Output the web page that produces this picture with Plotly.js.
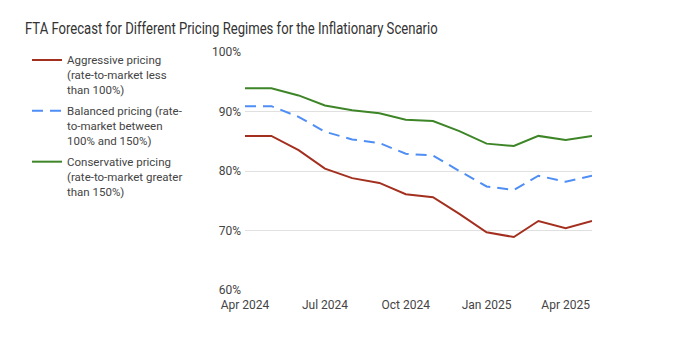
<!DOCTYPE html>
<html>
<head>
<meta charset="utf-8">
<script src="https://cdn.plot.ly/plotly-3.0.1.min.js"></script>
<style>html,body{margin:0;padding:0;background:#fff;}#chart{width:674px;height:352px;}</style>
</head>
<body>
<div id="chart"></div>
<script>
const months = ['2024-04-01','2024-05-01','2024-06-01','2024-07-01','2024-08-01','2024-09-01','2024-10-01','2024-11-01','2024-12-01','2025-01-01','2025-02-01','2025-03-01','2025-04-01','2025-05-01'];
const aggressive = [85.9, 85.9, 83.5, 80.4, 78.8, 78.0, 76.1, 75.6, 72.8, 69.7, 68.9, 71.6, 70.4, 71.6];
const balanced = [90.9, 90.9, 89.1, 86.6, 85.3, 84.7, 82.9, 82.6, 80.0, 77.4, 76.8, 79.2, 78.2, 79.2];
const conservative = [93.9, 93.9, 92.7, 91.0, 90.2, 89.7, 88.6, 88.4, 86.7, 84.6, 84.2, 85.9, 85.2, 85.9];
const seriesNames = [
  'Aggressive pricing<br>(rate-to-market less<br>than 100%)',
  'Balanced pricing (rate-<br>to-market between<br>100% and 150%)',
  'Conservative pricing<br>(rate-to-market greater<br>than 150%)'
];
const tickDates = ['2024-04-01','2024-07-01','2024-10-01','2025-01-01','2025-04-01'];
const tickLabels = ['Apr 2024','Jul 2024','Oct 2024','Jan 2025','Apr 2025'];
const yTicks = [60, 70, 80, 90, 100];
const yTickLabels = ['60%','70%','80%','90%','100%'];

const fam = 'Roboto, Liberation Sans, Arial, sans-serif';
const traces = [
  {x: months, y: aggressive, name: seriesNames[0], legendgroup: 'g1', mode: 'lines', line: {color: '#a3301f', width: 2}},
  {x: months, y: balanced, name: seriesNames[1], legendgroup: 'g2', mode: 'lines', line: {color: '#4f8ef5', width: 2, dash: '11px,7px'}},
  {x: months, y: conservative, name: seriesNames[2], legendgroup: 'g3', mode: 'lines', line: {color: '#3d8527', width: 2}}
];

const layout = {
  width: 674, height: 352,
  margin: {l: 245, r: 82, t: 52, b: 62},
  paper_bgcolor: '#fff', plot_bgcolor: '#fff',
  font: {family: fam, color: '#444', size: 12},
  title: {text: 'FTA Forecast for Different Pricing Regimes for the Inflationary Scenario',
    font: {size: 16, color: '#333', family: fam},
    xref: 'container', yref: 'container', x: 25/674, xanchor: 'left', y: 1 - 28/352, yanchor: 'middle'},
  showlegend: true,
  legend: {xref: 'container', yref: 'container', x: 27/674, xanchor: 'left', y: 1 - 46/352, yanchor: 'top',
    valign: 'top', tracegroupgap: 3, font: {size: 11.5, color: '#444', family: fam}, bgcolor: 'rgba(0,0,0,0)'},
  xaxis: {type: 'date', range: ['2024-04-01','2025-05-01'], tickvals: tickDates, ticktext: tickLabels,
    showgrid: false, zeroline: false, showline: false, ticks: '', ticklabelstandoff: 6,
    tickfont: {size: 12, color: '#444', family: fam}, fixedrange: true},
  yaxis: {range: [60, 100], tickvals: yTicks, ticktext: yTickLabels, showgrid: true, gridcolor: '#e0e0e0', gridwidth: 1,
    zeroline: false, showline: false, ticks: '', ticklabelstandoff: 3, tickfont: {size: 12, color: '#444', family: fam}, fixedrange: true}
};
Plotly.newPlot('chart', traces, layout, {displayModeBar: false, staticPlot: true}).then(function (gd) {
  // The reference title uses a condensed face; compress the real text horizontally to the same width.
  const t = gd.querySelector('.gtitle');
  if (t) {
    const bb = t.getBBox();
    const target = 413;
    if (bb.width > target) {
      const s = target / bb.width;
      const x0 = bb.x;
      t.setAttribute('transform', 'translate(' + x0 + ',0) scale(' + s + ',1) translate(' + (-x0) + ',0)');
    }
  }
});
</script>
</body>
</html>
